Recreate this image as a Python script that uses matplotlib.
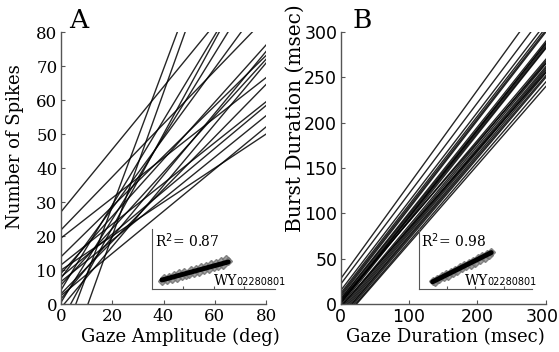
import numpy as np
import matplotlib.pyplot as plt
import matplotlib.transforms as mtransforms

# ---- panel A: regression lines, spikes vs gaze amplitude (intercept, slope)
a_intercepts = [27.1, 21.8, 19.4, 13.9, 11.5, 10.0, 9.0, 7.6, 6.6, 5.6,
                4.1, 2.5, 1.5, 0.5, -1.1, -5.2, -11.7, -22.2, 3.0, 8.0]
a_slopes = [0.92, 0.78, 0.59, 0.74, 0.60, 0.50, 0.84, 1.03, 0.61, 0.83,
            1.25, 0.62, 0.91, 1.22, 0.90, 1.38, 2.02, 2.11, 0.77, 0.63]

# ---- panel B: regression lines, burst duration vs gaze duration
b_intercepts = [28, 22, 15, 12, 10, 8, 6, 5, 3, 1, 0, -2, -4, -6, -8,
                -10, -12, -14, -15, -17, -19, -20, 2, 4, -3]
b_end300 = [340, 322, 310, 305, 302, 300, 290, 287, 285, 283, 288, 282, 268,
            265, 262, 260, 258, 255, 252, 250, 245, 240, 270, 266, 256]

# ---- insets: example cell WY02280801
insA_x = [8, 10, 12, 14, 16, 18, 20, 22, 24, 26, 28, 30, 32, 34, 36, 38, 40,
          42, 44, 46, 48, 50, 52, 54, 56, 58, 60, 62]
insA_y = [13, 18, 15, 20, 17, 23, 19, 26, 22, 28, 24, 25, 31, 27, 33, 29, 36,
          31, 38, 34, 41, 36, 44, 38, 47, 40, 50, 46]
insA_fit = (10.5, 0.56)
insB_x = [12, 14, 16, 18, 20, 22, 24, 26, 28, 30, 32, 34, 36, 38, 40, 42, 44,
          46, 48, 50, 52, 54, 56, 58, 60, 62, 64]
insB_y = [13, 12.5, 17, 16.5, 21, 20, 25, 22, 28.5, 27.5, 32, 29.5, 36, 35,
          39.5, 38.5, 43.5, 40.5, 47, 44, 51, 48.5, 55, 52, 58.5, 57.5, 62]
insB_fit = (0.72, 0.94)

serif = 'DejaVu Serif'
sans = 'DejaVu Sans'
spine_col = '#555555'

fig = plt.figure(figsize=(5.59, 3.52), dpi=100)


def style_main(ax, xlim, ylim, ticks_x, ticks_y, tick_font, tick_size):
    ax.set_xlim(*xlim)
    ax.set_ylim(*ylim)
    ax.set_xticks(ticks_x)
    ax.set_yticks(ticks_y)
    for s in ['top', 'right']:
        ax.spines[s].set_visible(False)
    for s in ['left', 'bottom']:
        ax.spines[s].set_color(spine_col)
        ax.spines[s].set_linewidth(1.0)
    ax.tick_params(direction='in', length=3, color=spine_col, pad=2.5)
    for lab in ax.get_xticklabels() + ax.get_yticklabels():
        lab.set_family(tick_font)
        lab.set_fontsize(tick_size)


def place_labels(ax, xlab, ylab, xpos, ypos, ysize=13):
    ax.set_xlabel(xlab, family=serif, fontsize=13)
    ax.set_ylabel(ylab, family=serif, fontsize=ysize)
    ax.xaxis.set_label_coords(*xpos)
    ax.yaxis.set_label_coords(*ypos)
    ax.xaxis.label.set_va('center')
    ax.yaxis.label.set_va('center')


def style_inset(ax):
    ax.set_xlim(0, 100)
    ax.set_ylim(0, 100)
    ax.patch.set_alpha(0)
    for s in ['top', 'right']:
        ax.spines[s].set_visible(False)
    for s in ['left', 'bottom']:
        ax.spines[s].set_color(spine_col)
        ax.spines[s].set_linewidth(0.8)
    ax.set_xticks([25, 50, 75])
    ax.set_yticks([])
    ax.tick_params(direction='in', length=2, color=spine_col, labelbottom=False)


# Panel A
axA = fig.add_axes([0.109, 0.136, 0.367, 0.773])
xa = np.array([0, 80])
for b, m in zip(a_intercepts, a_slopes):
    axA.plot(xa, b + m * xa, color='k', lw=1.0, alpha=0.85)
style_main(axA, (0, 80), (0, 80), [0, 20, 40, 60, 80], range(0, 81, 10), serif, 12)
place_labels(axA, 'Gaze Amplitude (deg)', 'Number of Spikes',
             (0.58, -0.121), (-0.224, 0.58))
fig.text(0.141, 0.943, 'A', family=serif, fontsize=19, ha='center', va='center')

# Panel B
axB = fig.add_axes([0.6095, 0.136, 0.367, 0.773])
xb = np.array([0, 300])
for b, e in zip(b_intercepts, b_end300):
    axB.plot(xb, [b, e], color='k', lw=1.0, alpha=0.85)
style_main(axB, (0, 300), (0, 300), [0, 100, 200, 300], range(0, 301, 50), sans, 12.5)
# nudge last tick label left so it stays inside the figure
last = axB.get_xticklabels()[-1]
last.set_transform(last.get_transform() +
                   mtransforms.ScaledTranslation(-4 / 100, 0, fig.dpi_scale_trans))
place_labels(axB, 'Gaze Duration (msec)', 'Burst Duration (msec)',
             (0.509, -0.121), (-0.223, 0.682), ysize=14.5)
fig.text(0.648, 0.943, 'B', family=serif, fontsize=19, ha='center', va='center')

# Insets
for pos, xs, ys, fit, r2, tx in [
        ([0.272, 0.179, 0.22, 0.170], insA_x, insA_y, insA_fit, '0.87', 0.383),
        ([0.7496, 0.179, 0.202, 0.170], insB_x, insB_y, insB_fit, '0.98', 0.832)]:
    ins = fig.add_axes(pos)
    ins.plot(xs, ys, 'D', ms=4.5, color='#8a8a8a', mec='#707070', alpha=0.8)
    fx = np.array([min(xs), max(xs)])
    ins.plot(fx, fit[0] + fit[1] * fx, color='k', lw=3.5, solid_capstyle='round')
    style_inset(ins)
    ins.text(0.02, 0.97, r'R$^2$= ' + r2, transform=ins.transAxes, family=serif,
             fontsize=10, va='top', ha='left')
    fig.text(tx, 0.19, 'WY', family=serif, fontsize=10, va='baseline')
    fig.text(tx + 0.04, 0.19, '02280801', family=sans, fontsize=7, va='baseline')

plt.savefig('out.png', dpi=100)
